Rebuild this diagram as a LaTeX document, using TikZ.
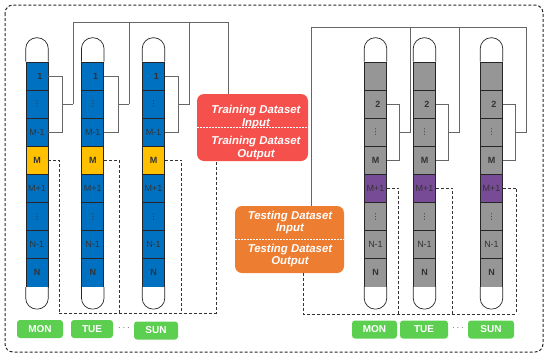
\documentclass[tikz,border=0pt]{standalone}
\usepackage{fontspec}
\setmainfont{Liberation Sans}
\newfontfamily\dejavu{DejaVu Sans}
\usetikzlibrary{calc}
\definecolor{cblue}{RGB}{0,112,192}
\definecolor{cyel}{RGB}{255,192,0}
\definecolor{cgray}{RGB}{150,150,150}
\definecolor{cpurp}{RGB}{120,75,150}
\definecolor{tred}{RGB}{245,80,75}
\definecolor{torange}{RGB}{237,125,49}
\definecolor{dgreen}{RGB}{92,206,80}
\newcommand{\vd}{{\dejavu\fontsize{8}{8}\selectfont ⋮}}
\begin{document}
\begin{tikzpicture}[x=1pt,y=-1pt,
  cell/.style={draw=black!85, line width=0.6pt, minimum width=22pt, minimum height=28.1pt, inner sep=0pt, text=black!80, font=\fontsize{9}{10}\selectfont},
  capstyle/.style={draw=black!85, fill=white, line width=0.7pt, rounded corners=11pt},
  br/.style={draw=black!60, line width=0.7pt},
  dl/.style={draw=black!80, line width=0.8pt, dash pattern=on 3pt off 2pt},
  bigbox/.style={rounded corners=7pt, inner sep=0pt, minimum height=67pt},
  boxtext/.style={text=white, font=\fontsize{11.4}{12.5}\selectfont\bfseries\itshape, align=center, inner sep=0pt},
  day/.style={fill=dgreen, rounded corners=3pt, minimum height=18pt, inner sep=0pt, text=white, font=\fontsize{10}{11}\selectfont\bfseries}]
\useasboundingbox (0,0) rectangle (550,357);
\draw[line width=1pt, dash pattern=on 3pt off 2pt, rounded corners=8pt, black!85] (5,5) rectangle (543,352);

% left columns
\foreach \c/\x in {a/37,b/92.75,c/153.5}{
  \foreach \i/\lab/\f in {1/\hspace*{6pt}\textbf{1}/cblue, 2/\vd/cblue, 3/M-1/cblue, 4/\textbf{M}/cyel, 5/M+1/cblue, 6/\vd/cblue, 7/N-1/cblue, 8/\textbf{N}/cblue}{
    \node[cell, fill=\f] (L\c\i) at (\x, {62+28.1*(\i-0.5)}) {\lab};
  }
  \draw[capstyle] (L\c1.north west) -- ([yshift=24pt]L\c1.north west) -- ([yshift=24pt]L\c1.north east) -- (L\c1.north east);
  \draw[capstyle] (L\c8.south west) -- ([yshift=-22pt]L\c8.south west) -- ([yshift=-22pt]L\c8.south east) -- (L\c8.south east);
  \draw[br] (L\c1.east) -- ++(14,0) |- (L\c3.east);
  \draw[br] ($(L\c2.east)+(14,0)$) -- ++(11,0) coordinate (t\c);
}
% right columns
\foreach \c/\x in {A/375.5,B/424.5,C/491.5}{
  \foreach \i/\lab/\f in {1/{}/cgray, 2/\hspace*{5pt}\textbf{2}/cgray, 3/\vd/cgray, 4/\textbf{M}/cgray, 5/M+1/cpurp, 6/\vd/cgray, 7/N-1/cgray, 8/\textbf{N}/cgray}{
    \node[cell, fill=\f] (R\c\i) at (\x, {62+28.1*(\i-0.5)}) {\lab};
  }
  \draw[capstyle] (R\c1.north west) -- ([yshift=24pt]R\c1.north west) -- ([yshift=24pt]R\c1.north east) -- (R\c1.north east);
  \draw[capstyle] (R\c8.south west) -- ([yshift=-22pt]R\c8.south west) -- ([yshift=-22pt]R\c8.south east) -- (R\c8.south east);
  \draw[br] (R\c2.east) -- ++(13,0) |- (R\c4.east);
  \draw[br] ($(R\c3.east)+(13,0)$) -- ++(11,0) coordinate (t\c);
}

% boxes
\node[bigbox, fill=tred, minimum width=111pt] (train) at (252.5,127.5) {};
\node[bigbox, fill=torange, minimum width=109pt] (test) at (289.5,239.5) {};
\draw[white, line width=0.5pt, dash pattern=on 2pt off 1pt] (train.west) -- (train.east);
\draw[white, line width=0.5pt, dash pattern=on 2pt off 1pt] (test.west) -- (test.east);
\node[boxtext] (trainin) at (256,117) {Training Dataset\\Input};
\node[boxtext] (trainout) at (256,148) {Training Dataset\\Output};
\node[boxtext] (testin) at (290,222.5) {Testing Dataset\\Input};
\node[boxtext] (testout) at (290,255.5) {Testing Dataset\\Output};

\coordinate (topL) at (0,22);
\coordinate (topR) at (0,27);
\coordinate (botL) at (0,313);
\coordinate (botR) at (0,314);
\coordinate (trin) at ($(train.north)+(-24.5,0)$);
\coordinate (trout) at ($(train.south)+(-36.5,0)$);
\coordinate (tein) at ($(test.north)+(21.5,0)$);
\coordinate (teout) at ($(test.south)+(13.5,0)$);

% solid connectors
\draw[br] (ta) -- (ta |- topL) -- (trin |- topL) -- (trin);
\draw[br] (tb) -- (tb |- topL);
\draw[br] (tc) -- (tc |- topL);
\draw[br] (tein) -- (tein |- topR) -- (tC |- topR) -- (tC);
\draw[br] (tA) -- (tA |- topR);
\draw[br] (tB) -- (tB |- topR);

% dashed connectors
\foreach \c/\d in {a/11,b/15,c/17}{
  \draw[dl] (L\c4.east) -- ++(\d,0) coordinate (d\c) -- (d\c |- botL);
}
\draw[dl] (da |- botL) -- (trout |- botL) -- (trout);
\foreach \c/\d in {A/12,B/17,C/14}{
  \draw[dl] (R\c5.east) -- ++(\d,0) coordinate (e\c) -- (e\c |- botR);
}
\draw[dl] (teout) -- (teout |- botR) -- (eC |- botR);

% day labels
\node[day, minimum width=46pt] (monL) at (40,329) {MON};
\node[day, minimum width=42pt] (tueL) at (92,329) {TUE};
\node[day, minimum width=44pt] (sunL) at (156,330.5) {SUN};
\node[text=black!60] (dotsL) at (124,328) {$\cdots$};
\node[day, minimum width=45pt] (monR) at (374.5,329.5) {MON};
\node[day, minimum width=48pt] (tueR) at (424,329.5) {TUE};
\node[day, minimum width=46pt] (sunR) at (491,329.5) {SUN};
\node[text=black!60] (dotsR) at (458,328) {$\cdots$};
\end{tikzpicture}
\end{document}
